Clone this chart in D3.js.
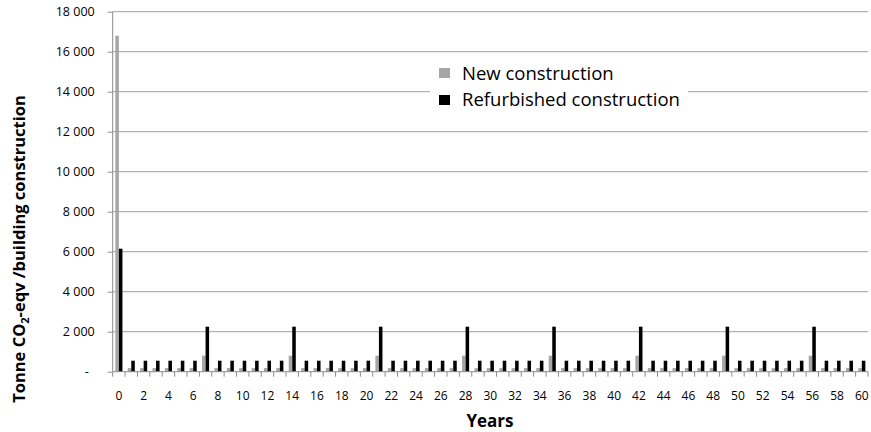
<!DOCTYPE html>
<html>
<head>
<meta charset="utf-8">
<script src="https://cdn.jsdelivr.net/npm/d3@7"></script>
<style>
  body { margin: 0; background: #fff; }
  svg text { font-family: "Open Sans", sans-serif; fill: #000; }
</style>
</head>
<body>
<svg id="chart" width="871" height="432"></svg>
<script>
// Years on the x axis
const years = d3.range(0, 61);

// Emissions per year (tonne CO2-eqv)
const newConstruction = [
  16800, 180, 180, 180, 180, 180, 180, 800, 180, 180, 180, 180, 180, 180,
  800, 180, 180, 180, 180, 180, 180, 800, 180, 180, 180, 180, 180, 180,
  800, 180, 180, 180, 180, 180, 180, 800, 180, 180, 180, 180, 180, 180,
  800, 180, 180, 180, 180, 180, 180, 800, 180, 180, 180, 180, 180, 180,
  800, 180, 180, 180, 180
];
const refurbished = [
  6150, 550, 550, 550, 550, 550, 550, 2250, 550, 550, 550, 550, 550, 550,
  2250, 550, 550, 550, 550, 550, 550, 2250, 550, 550, 550, 550, 550, 550,
  2250, 550, 550, 550, 550, 550, 550, 2250, 550, 550, 550, 550, 550, 550,
  2250, 550, 550, 550, 550, 550, 550, 2250, 550, 550, 550, 550, 550, 550,
  2250, 550, 550, 550, 550
];
const seriesNames = ["New construction", "Refurbished construction"];
const seriesColors = ["#a6a6a6", "#000000"];
const yTicks = d3.range(0, 18001, 2000);

// Plot area
let margin = { top: 11.7, right: 3, bottom: 60.3, left: 112.7 };
const width = 871 - margin.left - margin.right;
const height = 432 - margin.top - margin.bottom;

const svg = d3.select("#chart");
const g = svg.append("g").attr("transform", `translate(${margin.left},${margin.top})`);

const x = d3.scaleBand().domain(years).range([0, width]).paddingInner(0).paddingOuter(0);
const barW = x.bandwidth() / 3.5;
const y = d3.scaleLinear().domain([0, 18000]).range([height, 0]);

// Gridlines
g.selectAll(".grid")
  .data(yTicks.filter((d) => d > 0))
  .enter()
  .append("line")
  .attr("class", "grid")
  .attr("x1", 0)
  .attr("x2", width)
  .attr("y1", (d) => y(d))
  .attr("y2", (d) => y(d))
  .attr("stroke", "#a0a0a0")
  .attr("stroke-width", 1);

// Bars
const table = years.map((yr, i) => ({ year: yr, values: [newConstruction[i], refurbished[i]] }));
g.selectAll(".yr")
  .data(table)
  .enter()
  .append("g")
  .attr("class", "yr")
  .attr("transform", (d) => `translate(${x(d.year) + x.bandwidth() / 2 - barW},0)`)
  .selectAll("rect")
  .data((d) => d.values)
  .enter()
  .append("rect")
  .attr("x", (d, i) => i * barW)
  .attr("y", (d) => y(d))
  .attr("width", barW)
  .attr("height", (d) => height - y(d))
  .attr("fill", (d, i) => seriesColors[i]);

// Y axis
const yAxis = g.append("g").call(
  d3.axisLeft(y)
    .tickValues(yTicks)
    .tickSize(5)
    .tickPadding(13)
    .tickFormat((d) => (d === 0 ? "-" : d3.format(",")(d).replace(",", " ")))
);
yAxis.select(".domain").attr("stroke", "#8c8c8c").attr("d", `M0,${height}V0`);
yAxis.selectAll(".tick line").attr("stroke", "#8c8c8c");
yAxis.selectAll(".tick text").attr("font-size", "12.5px").attr("font-family", "Open Sans");
yAxis.selectAll(".tick text").filter((d) => d === 0).attr("dx", "-6");

// X axis: tick marks between categories, labels every second year
const xa = g.append("g").attr("transform", `translate(0,${height})`);
xa.append("line")
  .attr("x1", 0)
  .attr("x2", width)
  .attr("stroke", "#8c8c8c");
xa.selectAll(".xt")
  .data(d3.range(0, 62))
  .enter()
  .append("line")
  .attr("class", "xt")
  .attr("x1", (d) => d * x.step())
  .attr("x2", (d) => d * x.step())
  .attr("y1", 0)
  .attr("y2", 5)
  .attr("stroke", "#8c8c8c");
xa.selectAll(".xl")
  .data(years.filter((d) => d % 2 === 0))
  .enter()
  .append("text")
  .attr("class", "xl")
  .attr("x", (d) => x(d) + x.bandwidth() / 2)
  .attr("y", 28)
  .attr("text-anchor", "middle")
  .attr("font-size", "12px")
  .text((d) => d);

// Axis titles
svg.append("text")
  .attr("x", 490)
  .attr("y", 427)
  .attr("text-anchor", "middle")
  .attr("font-size", "17px")
  .attr("font-weight", "bold")
  .text("Years");

const yt = svg.append("text")
  .attr("transform", "translate(25,249) rotate(-90)")
  .attr("text-anchor", "middle")
  .attr("font-size", "16.5px")
  .attr("font-weight", "bold");
yt.append("tspan").text("Tonne CO");
yt.append("tspan").attr("font-size", "11px").attr("dy", "4").text("2");
yt.append("tspan").attr("dy", "-4").text("-eqv /building construction");

// Legend
const legend = svg.append("g").attr("transform", "translate(430,58)");
legend.append("rect")
  .attr("width", 258)
  .attr("height", 54)
  .attr("fill", "#fff");
seriesNames.forEach((name, i) => {
  legend.append("rect")
    .attr("x", 9)
    .attr("y", 10 + i * 27)
    .attr("width", 11)
    .attr("height", 10)
    .attr("fill", seriesColors[i]);
  legend.append("text")
    .attr("x", 32)
    .attr("y", 22 + i * 26)
    .attr("font-size", "18.5px")
    .text(name);
});
</script>
</body>
</html>
